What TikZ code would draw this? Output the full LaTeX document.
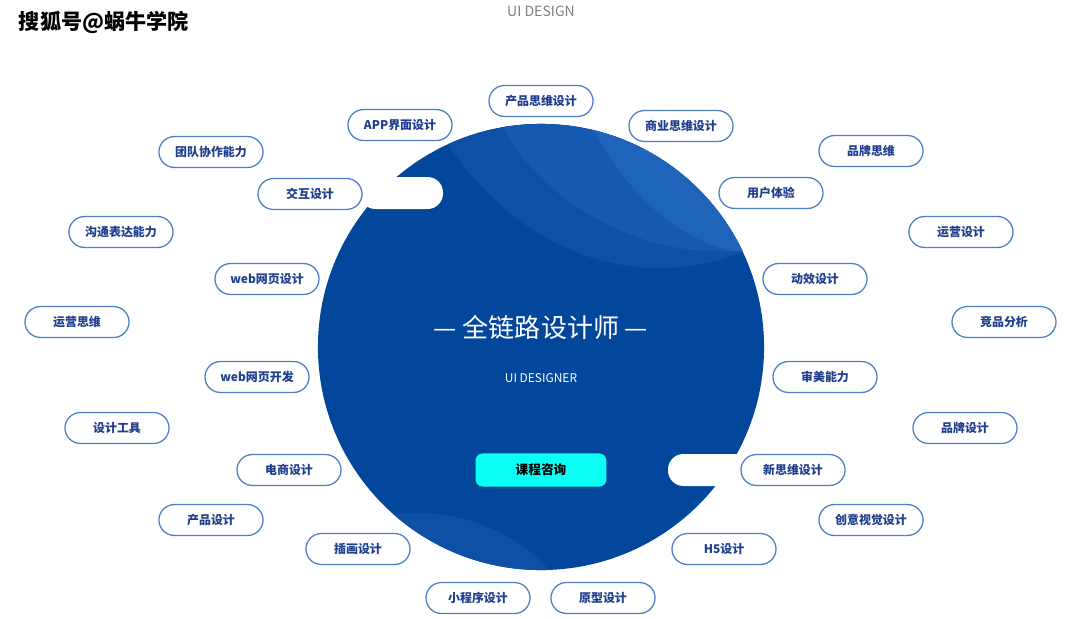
\documentclass[tikz,border=0pt]{standalone}
\usepackage{fontspec}
\setmainfont{Noto Sans CJK SC}
\definecolor{circblue}{HTML}{03479C}
\definecolor{waveone}{HTML}{0E50A6}
\definecolor{wavetwo}{HTML}{155AB0}
\definecolor{wavethree}{HTML}{1D64BA}
\definecolor{pillline}{HTML}{4D7EC6}
\definecolor{pilltext}{HTML}{1F3F8E}
\definecolor{btncyan}{HTML}{0CFFF5}

\begin{document}
\begin{tikzpicture}[x=0.025cm, y=-0.025cm,
    pill/.style={draw=pillline, line width=0.9pt, fill=white, rounded corners=11pt,
        minimum width=74pt, minimum height=22pt, inner sep=0pt,
        text=pilltext, font=\bfseries\fontsize{8.5}{10}\selectfont}]
        \useasboundingbox (0,0) rectangle (1080,619);
        % big circle with waves
        \fill[circblue] (541,347) circle (5.575cm);
        \begin{scope}
            \clip (541,347) circle (5.575cm);
            \fill[waveone] (445,140) .. controls (520,255) and (640,295) .. (748,250) -- (800,60) -- (420,60) -- cycle;
            \fill[wavetwo] (502,125) .. controls (540,200) and (640,262) .. (748,250) -- (800,60) -- (480,60) -- cycle;
            \fill[wavethree] (593,128) .. controls (630,200) and (690,250) .. (748,252) -- (800,60) -- (580,60) -- cycle;
            \fill[waveone] (385,515) .. controls (450,505) and (520,530) .. (552,575) -- (300,620) -- cycle;
        \end{scope}
        \fill[white, rounded corners=11pt] (360,177) rectangle (443,209);
        \fill[white, rounded corners=11pt] (668,454) rectangle (760,486);
        % texts
        \node[text=gray, font=\fontsize{10}{12}\selectfont] (head) at (541,11) {UI DESIGN};
        \node[anchor=west, font=\bfseries\fontsize{15}{18}\selectfont] (mark) at (14,22) {搜狐号@蜗牛学院};
        \node[white, font=\fontsize{18.5}{22}\selectfont] (title) at (541,328) {— 全链路设计师 —};
        \node[white, font=\fontsize{8.5}{10}\selectfont] (sub) at (541,378) {UI DESIGNER};
        \node[fill=btncyan, rounded corners=5pt, minimum width=93pt, minimum height=23.5pt,
            font=\bfseries\fontsize{9}{11}\selectfont] (consult) at (541,470) {课程咨询};
        % skill pills
        \node[pill] (prodthink) at (541,101) {产品思维设计};
        \node[pill] (appui) at (400,125) {APP界面设计};
        \node[pill] (bizthink) at (681,126) {商业思维设计};
        \node[pill] (team) at (211,152) {团队协作能力};
        \node[pill] (brandthink) at (871,151) {品牌思维};
        \node[pill] (interact) at (310,194) {交互设计};
        \node[pill] (ux) at (771,193) {用户体验};
        \node[pill] (talk) at (121,232) {沟通表达能力};
        \node[pill] (opsdesign) at (961,232) {运营设计};
        \node[pill] (webdesign) at (267,279) {web网页设计};
        \node[pill] (motion) at (815,279) {动效设计};
        \node[pill] (opsthink) at (77,322) {运营思维};
        \node[pill] (compete) at (1004,322) {竞品分析};
        \node[pill] (webdev) at (257,377) {web网页开发};
        \node[pill] (taste) at (825,377) {审美能力};
        \node[pill] (tools) at (117,428) {设计工具};
        \node[pill] (branddesign) at (965,428) {品牌设计};
        \node[pill] (ecom) at (289,470) {电商设计};
        \node[pill] (newthink) at (793,470) {新思维设计};
        \node[pill] (product) at (211,520) {产品设计};
        \node[pill] (creative) at (871,520) {创意视觉设计};
        \node[pill] (illus) at (358,549) {插画设计};
        \node[pill] (hfive) at (724,549) {H5设计};
        \node[pill] (miniapp) at (478,598) {小程序设计};
        \node[pill] (proto) at (603,598) {原型设计};
\end{tikzpicture}
\end{document}
